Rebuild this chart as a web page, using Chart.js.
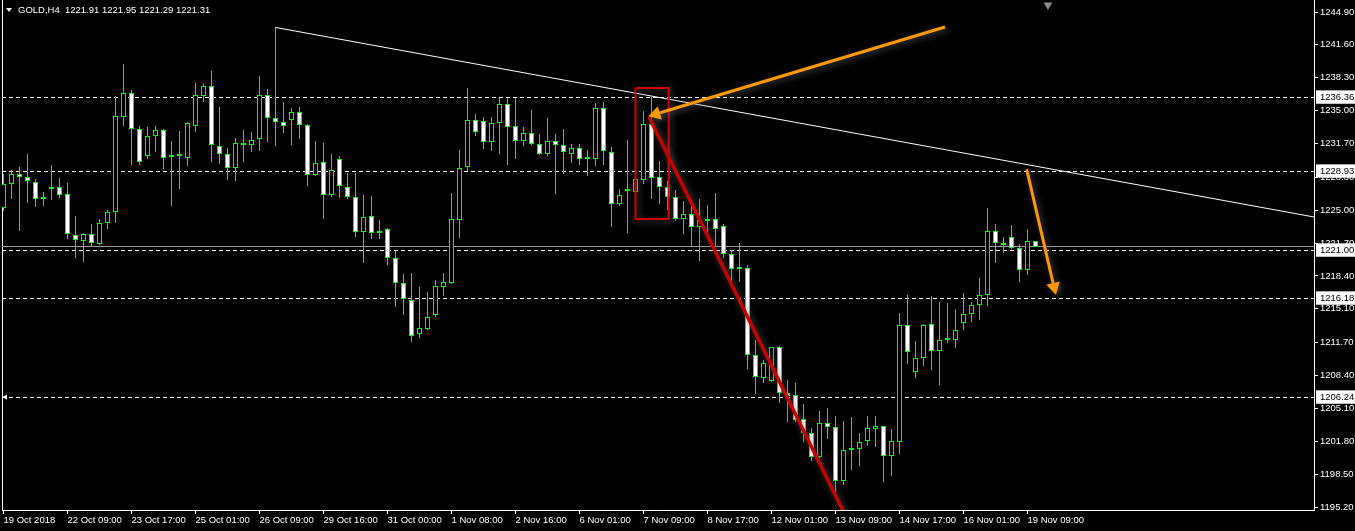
<!DOCTYPE html>
<html><head><meta charset="utf-8">
<script src="https://cdn.jsdelivr.net/npm/chart.js@4.4.1/dist/chart.umd.min.js"></script>
<style>html,body{margin:0;padding:0;background:#000;overflow:hidden}canvas{display:block}</style>
</head><body><canvas id="c" width="1355" height="531"></canvas>
<script>
const symbol = 'GOLD,H4';
const open = [1225.19,1227.60,1228.60,1228.30,1227.80,1226.10,1227.30,1227.30,1226.59,1222.48,
1221.93,1222.58,1221.57,1223.68,1224.79,1234.38,1236.73,1233.12,1230.47,1232.42,
1233.02,1230.31,1230.42,1230.27,1233.48,1236.49,1237.44,1231.47,1230.61,1229.20,
1231.56,1231.57,1232.11,1236.53,1234.22,1233.82,1234.02,1234.83,1233.52,1228.50,
1229.81,1226.49,1230.11,1227.30,1226.29,1222.78,1224.38,1222.69,1223.08,1220.17,
1217.66,1215.98,1212.54,1213.10,1214.44,1217.32,1217.72,1224.04,1229.36,1234.02,
1233.92,1231.87,1233.72,1235.63,1233.42,1231.91,1232.72,1231.61,1230.67,1231.91,
1231.51,1230.67,1231.21,1230.18,1230.17,1235.23,1230.81,1225.59,1227.09,1226.85,
1228.00,1233.62,1228.30,1227.30,1226.29,1224.08,1224.58,1223.28,1223.95,1224.08,
1223.38,1220.57,1219.07,1219.16,1210.43,1208.18,1207.88,1211.23,1206.61,1206.41,
1204.00,1202.60,1200.25,1203.60,1203.20,1197.84,1200.96,1201.05,1201.85,1203.06,
1203.30,1200.35,1201.75,1213.44,1208.72,1210.13,1213.54,1210.83,1211.94,1211.93,
1213.64,1214.54,1215.45,1216.51,1222.91,1221.67,1222.28,1221.17,1218.96,1221.91];
const high = [1228.63,1229.03,1229.33,1230.64,1228.10,1226.82,1229.50,1228.20,1227.70,1224.41,
1222.74,1223.61,1224.08,1225.02,1236.46,1239.67,1237.06,1233.45,1233.35,1233.45,
1233.12,1231.94,1232.95,1233.82,1237.77,1237.67,1238.97,1235.36,1231.24,1232.21,
1233.05,1232.85,1238.47,1237.16,1243.35,1235.86,1235.26,1235.36,1233.62,1231.94,
1231.74,1230.61,1230.41,1228.70,1228.70,1226.49,1226.42,1223.98,1223.18,1220.97,
1218.56,1218.66,1217.25,1216.75,1217.99,1218.66,1226.69,1231.04,1237.26,1234.62,
1234.35,1234.35,1236.29,1236.29,1236.29,1233.35,1235.06,1232.65,1234.25,1232.65,
1233.15,1231.64,1231.64,1231.04,1235.76,1235.86,1231.31,1227.09,1232.04,1228.60,
1234.96,1236.33,1229.94,1227.93,1227.02,1225.92,1225.52,1226.12,1225.52,1226.72,
1223.61,1221.00,1221.70,1219.49,1211.96,1209.96,1211.29,1211.39,1207.92,1207.65,
1205.54,1203.10,1204.84,1205.11,1204.33,1203.83,1204.23,1202.60,1204.33,1204.33,
1203.38,1203.03,1214.67,1216.48,1211.86,1213.54,1216.38,1215.78,1215.68,1215.08,
1216.68,1215.78,1218.19,1225.22,1223.61,1222.31,1223.51,1221.60,1223.08,1221.95];
const low = [1224.95,1226.15,1222.94,1225.75,1225.35,1225.45,1226.05,1226.25,1222.13,1220.23,
1219.83,1221.33,1221.47,1223.14,1223.74,1233.48,1229.56,1229.56,1230.17,1230.84,
1229.13,1225.45,1227.15,1229.46,1232.88,1235.89,1229.87,1229.63,1228.06,1227.96,
1229.87,1230.84,1230.97,1231.87,1231.47,1232.78,1231.57,1232.17,1227.46,1228.45,
1224.14,1226.35,1226.19,1226.15,1222.34,1219.72,1222.13,1222.10,1219.52,1215.31,
1214.47,1211.79,1212.19,1212.97,1214.30,1216.41,1217.59,1222.23,1228.93,1232.48,
1231.14,1230.97,1230.67,1229.56,1230.17,1231.47,1231.55,1230.57,1230.47,1226.65,
1228.66,1229.76,1229.56,1228.46,1229.46,1229.56,1223.34,1225.45,1222.74,1226.60,
1227.60,1226.15,1225.65,1225.02,1223.94,1222.64,1221.27,1219.93,1222.51,1221.33,
1220.20,1217.66,1217.82,1209.08,1206.54,1207.68,1207.78,1205.67,1203.76,1203.70,
1201.75,1199.82,1200.17,1202.02,1196.13,1197.41,1198.91,1199.31,1201.32,1201.22,
1197.71,1198.34,1200.55,1209.58,1208.18,1209.38,1208.98,1207.48,1211.63,1211.19,
1212.97,1213.77,1213.97,1215.41,1219.69,1220.70,1221.07,1217.82,1218.52,1221.29];
const close = [1227.63,1228.60,1228.30,1227.90,1226.09,1226.08,1227.09,1226.55,1222.58,1221.97,
1222.61,1221.67,1223.68,1224.79,1234.42,1236.73,1233.12,1229.81,1232.42,1233.05,
1230.27,1230.51,1230.46,1233.72,1236.53,1237.44,1231.51,1230.61,1229.20,1231.71,
1231.52,1232.01,1236.53,1234.22,1233.82,1233.42,1234.83,1233.58,1228.50,1229.70,
1226.49,1229.00,1227.40,1226.29,1222.78,1224.28,1222.68,1222.67,1220.17,1217.66,
1216.05,1212.40,1213.14,1214.24,1217.36,1217.76,1224.08,1229.20,1234.02,1232.82,
1231.87,1233.72,1235.63,1233.32,1231.91,1232.72,1231.61,1230.67,1231.91,1231.51,
1230.81,1231.21,1230.11,1230.16,1235.23,1230.91,1225.59,1226.49,1226.89,1228.13,
1233.62,1228.26,1227.30,1226.35,1224.08,1224.58,1223.28,1223.98,1223.93,1223.08,
1220.57,1219.06,1219.05,1210.43,1208.22,1209.62,1211.23,1206.61,1206.37,1203.90,
1202.60,1200.19,1203.60,1203.20,1197.84,1200.89,1200.94,1201.69,1203.10,1203.30,
1200.35,1201.79,1213.44,1210.73,1210.13,1213.44,1210.83,1211.93,1211.92,1212.94,
1214.54,1215.45,1216.45,1222.91,1221.67,1221.47,1221.17,1218.96,1221.87,1221.31];

const xTickIndex = [0,8,16,24,32,40,48,56,64,72,80,88,96,104,112,120,128];
const xTickLabels = ['19 Oct 2018','22 Oct 09:00','23 Oct 17:00','25 Oct 01:00','26 Oct 09:00','29 Oct 16:00',
 '31 Oct 00:00','1 Nov 08:00','2 Nov 16:00','6 Nov 01:00','7 Nov 09:00','8 Nov 17:00','12 Nov 01:00',
 '13 Nov 09:00','14 Nov 17:00','16 Nov 01:00','19 Nov 09:00'];
const yTicks = [1244.90,1241.60,1238.30,1235.00,1231.70,1228.30,1225.00,1221.70,1218.40,1215.10,
 1211.70,1208.40,1205.10,1201.80,1198.50,1195.20];
const levelPrices = [1236.36,1228.93,1221.00,1216.18,1206.24];
const bidPrice = 1221.31;
const trendLine = [{x:34,y:1243.35},{x:163.81,y:1224.32}];
const redBox = [{x:79.0,y:1237.27},{x:83.15,y:1237.27},{x:83.15,y:1224.12},{x:79.0,y:1224.12},{x:79.0,y:1237.27}];
const redLine = [{x:80.69,y:1234.36},{x:105.2,y:1194.4}];
const arrowA = [{x:117.69,y:1243.39},{x:81.56,y:1234.66}];
const arrowB = [{x:127.9,y:1229.11},{x:131.31,y:1217.29}];
const arrowRot = [253,166];
const shiftMarker = [{x:130.56,y:1245.6}];
const alertMarker = [{x:0.25,y:1206.24}];

const xMin = -0.1875, xMax = 163.8125, yMin = 1194.90, yMax = 1246.105;
const FONT = '"Liberation Sans", Arial, sans-serif';
const GREEN = '#00ff00';

const idx = open.map((_, i) => i);
const wickData = idx.map(i => ({x:i, y:[low[i], high[i]]}));
const bodyData = idx.map(i => ({x:i, y:[Math.min(open[i],close[i]), Math.max(open[i],close[i])]}));
const bodyFill = idx.map(i => close[i] < open[i] ? '#ffffff' : '#000000');
const levelSets = levelPrices.map(p => ({
  type:'line', data:[{x:xMin,y:p},{x:xMax,y:p}], borderColor:'#ffffff', borderWidth:1,
  borderDash:[4,3], pointRadius:0, fill:false, order:9, snap:true
}));

Chart.defaults.font.family = FONT;
Chart.defaults.font.size = 9.5;

const headerPlugin = {
  id:'header',
  afterDraw(chart){
    const ctx = chart.ctx, n = close.length - 1;
    ctx.save();
    ctx.fillStyle = '#ffffff';
    ctx.beginPath(); ctx.moveTo(6,8); ctx.lineTo(12,8); ctx.lineTo(9,12); ctx.closePath(); ctx.fill();
    ctx.font = '9.5px ' + FONT;
    ctx.textBaseline = 'middle';
    ctx.fillText(symbol + '  ' + open[n].toFixed(2) + ' ' + high[n].toFixed(2) + ' ' + low[n].toFixed(2) + ' ' + close[n].toFixed(2), 18, 10.5);
    ctx.restore();
  }
};
// drop shadow for drawn objects, pixel snapping for horizontal level lines
const styleDrawPlugin = {
  id:'styleDraw',
  beforeDatasetDraw(chart, args){
    const ds = chart.data.datasets[args.index];
    const c = chart.ctx;
    if (ds.glow){ c.save(); c.shadowColor = 'rgba(110,110,110,0.65)'; c.shadowBlur = 6; c.shadowOffsetX = 2; c.shadowOffsetY = 2; }
    if (ds.snap){ const el = args.meta.data[0]; const d = Math.round(el.y - 0.5) + 0.5 - el.y; c.save(); c.translate(0, d); }
  },
  afterDatasetDraw(chart, args){
    const ds = chart.data.datasets[args.index];
    if (ds.glow) chart.ctx.restore();
    if (ds.snap) chart.ctx.restore();
  }
};
// snap candle bars to whole pixels (crisp edges like the terminal)
const crispBarsPlugin = {
  id:'crispBars',
  afterDatasetsUpdate(chart){
    chart.data.datasets.forEach((ds, i) => {
      if (ds.type !== 'bar') return;
      chart.getDatasetMeta(i).data.forEach(el => {
        let top = Math.round(Math.min(el.y, el.base)), bot = Math.round(Math.max(el.y, el.base));
        if (bot - top < 1) bot = top + 1;
        el.y = top; el.base = bot;
      });
    });
  }
};
// pin the plot frame: left 2, top 0, right axis 41px wide, bottom axis 21px tall
const framePlugin = {
  id:'frame',
  afterLayout(chart){
    const W = chart.width, H = chart.height;
    const L = 2, T = 0, R = W - 41, B = H - 21;
    Object.assign(chart.chartArea, {left:L, top:T, right:R, bottom:B, width:R-L, height:B-T});
    const {x, y, yL} = chart.scales;
    Object.assign(x, {left:L, right:R, width:R-L, top:B, bottom:H, height:H-B});
    Object.assign(y, {left:R, right:W, width:W-R, top:T, bottom:B, height:B-T});
    Object.assign(yL, {left:L, right:L, width:0, top:T, bottom:B, height:B-T});
    [x, y, yL].forEach(s => { s._gridLineItems = null; s._labelItems = null; s.configure(); });
  }
};

new Chart(document.getElementById('c'), {
  type:'bar',
  data:{ datasets:[
    {type:'line', data:arrowA, borderColor:'#ff9900', borderWidth:3, pointRadius:[0,8], pointStyle:'triangle',
      pointRotation:[0,arrowRot[0]], pointBackgroundColor:'#ff9900', pointBorderWidth:0, fill:false, order:0, glow:true, clip:false},
    {type:'line', data:arrowB, borderColor:'#ff9900', borderWidth:3, pointRadius:[0,8], pointStyle:'triangle',
      pointRotation:[0,arrowRot[1]], pointBackgroundColor:'#ff9900', pointBorderWidth:0, fill:false, order:0, glow:true, clip:false},
    {type:'line', data:redLine, borderColor:'#c80000', borderWidth:3.5, pointRadius:0, fill:false, order:1, glow:true},
    {type:'line', data:redBox, borderColor:'#d00000', borderWidth:2, pointRadius:0, fill:false, order:1, glow:true},
    {type:'line', data:trendLine, borderColor:'#ffffff', borderWidth:1, pointRadius:0, fill:false, order:2},
    {type:'line', data:shiftMarker, showLine:false, pointStyle:'triangle', pointRadius:5, pointRotation:180,
      pointBackgroundColor:'#8c8c8c', pointBorderWidth:0, order:2, clip:false},
    {type:'line', data:alertMarker, showLine:false, pointStyle:'triangle', pointRadius:3, pointRotation:270,
      pointBackgroundColor:'#ffffff', pointBorderWidth:0, order:2, clip:false},
    {type:'bar', data:bodyData, backgroundColor:bodyFill, borderColor:GREEN, borderWidth:1, borderSkipped:false,
      grouped:false, maxBarThickness:5, barPercentage:1, categoryPercentage:1, minBarLength:2, inflateAmount:0, order:4},
    {type:'bar', data:wickData, backgroundColor:GREEN, borderWidth:0, grouped:false, maxBarThickness:1,
      barPercentage:1, categoryPercentage:1, inflateAmount:0, order:5},
    {type:'line', data:[{x:xMin,y:bidPrice},{x:xMax,y:bidPrice}], borderColor:'#9a9a9a', borderWidth:1, pointRadius:0, fill:false, order:8, snap:true},
    ...levelSets
  ]},
  options:{
    responsive:false, devicePixelRatio:1, animation:false, events:[],
    layout:{padding:{left:2,top:0,right:0,bottom:0}},
    plugins:{legend:{display:false}, tooltip:{enabled:false}},
    scales:{
      x:{type:'linear', position:'bottom', min:xMin, max:xMax, offset:false,
        afterBuildTicks:s => { s.ticks = xTickIndex.map(v => ({value:v})); },
        afterFit:s => { s.height = 21; s.paddingLeft = 0; s.paddingRight = 0; },
        grid:{drawOnChartArea:false, offset:false, tickLength:4, color:'#ffffff'},
        border:{display:true, color:'#ffffff'},
        ticks:{autoSkip:false, maxRotation:0, minRotation:0, align:'start', padding:1, color:'#ffffff',
          callback:(v, i) => xTickLabels[i]}
      },
      y:{type:'linear', position:'right', min:yMin, max:yMax,
        afterBuildTicks:s => { s.ticks = yTicks.map(v => ({value:v})).concat(levelPrices.map(v => ({value:v, special:true}))); },
        afterFit:s => { s.width = 41; s.paddingTop = 0; s.paddingBottom = 0; },
        grid:{drawOnChartArea:false, tickLength:4, color:'#ffffff',
          tickColor:c => (c.tick && c.tick.special) ? 'rgba(0,0,0,0)' : '#ffffff'},
        border:{display:true, color:'#ffffff'},
        ticks:{autoSkip:false, padding:2,
          color:c => (c.tick && c.tick.special) ? '#000000' : '#ffffff',
          showLabelBackdrop:c => !!(c.tick && c.tick.special), backdropColor:'#ffffff',
          backdropPadding:{top:1,bottom:1,left:4,right:2},
          callback:v => Number(v).toFixed(2)}
      },
      yL:{type:'linear', position:'left', min:yMin, max:yMax, display:true,
        afterFit:s => { s.width = 0; s.paddingTop = 0; s.paddingBottom = 0; },
        grid:{display:false, drawTicks:false}, ticks:{display:false},
        border:{display:true, color:'#ffffff'}}
    }
  },
  plugins:[framePlugin, crispBarsPlugin, headerPlugin, styleDrawPlugin]
});
</script></body></html>
